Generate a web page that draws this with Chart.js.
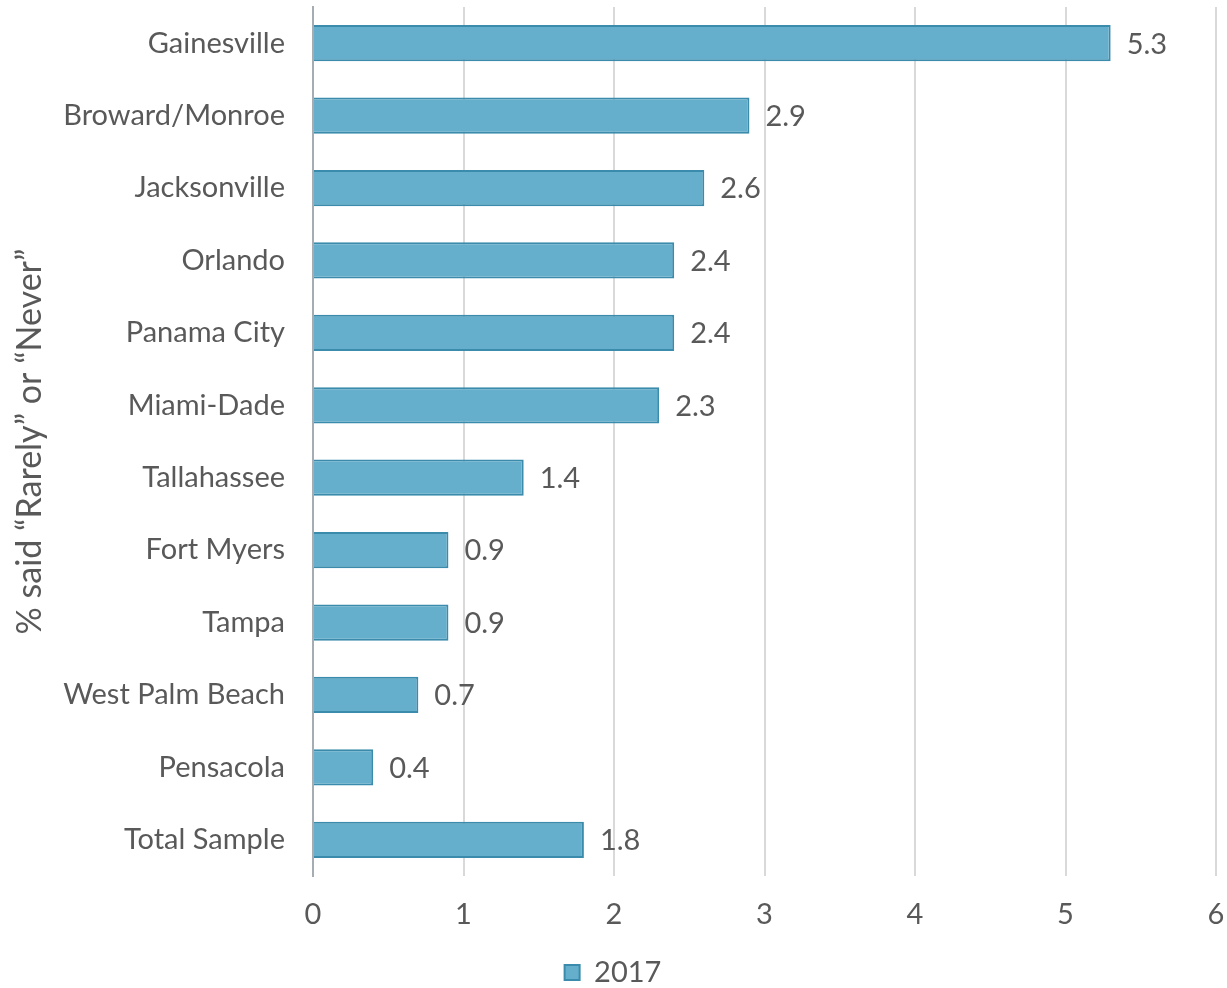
<!DOCTYPE html>
<html>
<head>
<meta charset="utf-8">
<script src="https://cdn.jsdelivr.net/npm/chart.js@4/dist/chart.umd.min.js"></script>
<style>
  html, body { margin: 0; padding: 0; background: #fff; }
  #wrap { width: 1227px; height: 988px; position: relative; }
</style>
</head>
<body>
<div id="wrap"><canvas id="chartCities"></canvas></div>
<script>
// Share of respondents answering "Rarely" or "Never", by city
const CITIES = ['Gainesville', 'Broward/Monroe', 'Jacksonville', 'Orlando', 'Panama City', 'Miami-Dade',
  'Tallahassee', 'Fort Myers', 'Tampa', 'West Palm Beach', 'Pensacola', 'Total Sample'];
const PCT_2017 = [5.3, 2.9, 2.6, 2.4, 2.4, 2.3, 1.4, 0.9, 0.9, 0.7, 0.4, 1.8];
const X_TICKS = [0, 1, 2, 3, 4, 5, 6];

const TEXT = '#595959';
const FONT = 'Lato, "Open Sans", sans-serif';
const FS = 29;

// value labels just past the end of each bar
const barValueLabels = {
  id: 'barValueLabels',
  afterDatasetsDraw(chart) {
    const { ctx } = chart;
    const meta = chart.getDatasetMeta(0);
    const vals = chart.data.datasets[0].data;
    ctx.save();
    ctx.font = FS + 'px ' + FONT;
    ctx.fillStyle = TEXT;
    ctx.textAlign = 'left';
    ctx.textBaseline = 'middle';
    meta.data.forEach((bar, i) => {
      ctx.fillText(vals[i].toFixed(1), bar.x + 16, bar.y + 1);
    });
    ctx.restore();
  }
};

new Chart(document.getElementById('chartCities'), {
  type: 'bar',
  data: {
    labels: CITIES,
    datasets: [{
      label: '2017',
      data: PCT_2017,
      backgroundColor: '#65AFCD',
      borderColor: '#3A8BAC',
      borderWidth: 2,
      borderSkipped: 'left',
      barPercentage: 0.5,
      categoryPercentage: 1
    }]
  },
  options: {
    indexAxis: 'y',
    responsive: true,
    maintainAspectRatio: false,
    animation: false,
    layout: { padding: { top: 7, right: 11, bottom: -9, left: 10 } },
    plugins: {
      legend: {
        position: 'bottom',
        labels: {
          color: TEXT,
          font: { family: FONT, size: FS },
          boxWidth: 15,
          boxHeight: 15,
          padding: 0,
          generateLabels(chart) {
            const ds = chart.data.datasets[0];
            return [{ text: ds.label, fillStyle: ds.backgroundColor, strokeStyle: ds.borderColor, lineWidth: 2, fontColor: TEXT, datasetIndex: 0 }];
          }
        }
      },
      tooltip: { enabled: false }
    },
    scales: {
      x: {
        min: 0, max: 6,
        afterBuildTicks(scale) { scale.ticks = X_TICKS.map(v => ({ value: v })); },
        afterFit(scale) { scale.paddingLeft = 0; scale.paddingRight = 0; scale.height = 82; },
        grid: { color: '#D9D9D9', lineWidth: 2, drawTicks: false },
        border: { display: false },
        ticks: { color: TEXT, font: { family: FONT, size: FS }, padding: 21 }
      },
      y: {
        afterFit(scale) { scale.width = 303; scale.paddingTop = 0; scale.paddingBottom = 0; },
        grid: { display: false, drawTicks: false },
        border: { display: true, color: '#A5ADB3', width: 2 },
        ticks: { color: TEXT, font: { family: FONT, size: FS }, padding: 28 },
        title: {
          display: true,
          text: '% said \u201cRarely\u201d or \u201cNever\u201d',
          color: TEXT,
          font: { family: FONT, size: 34 },
          padding: { top: 0, bottom: 0 }
        }
      }
    }
  },
  plugins: [barValueLabels]
});
</script>
</body>
</html>
